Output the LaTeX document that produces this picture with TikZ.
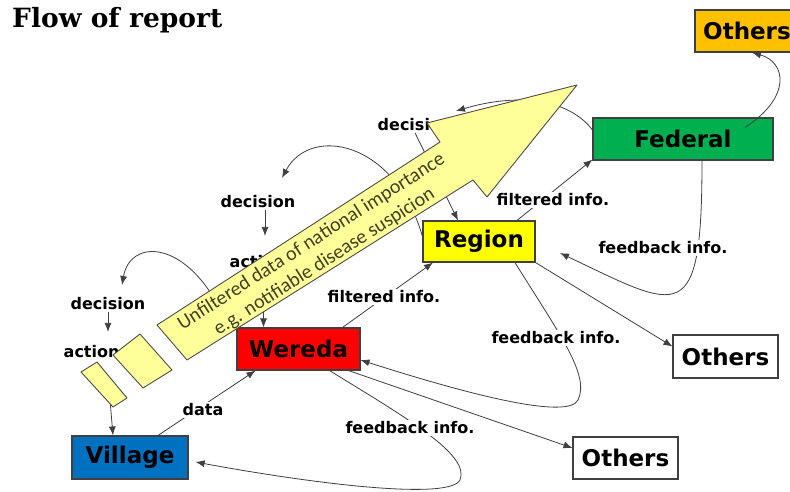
\documentclass[tikz,border=0pt]{standalone}
\usepackage{fontspec}
\usetikzlibrary{arrows.meta,calc}
\newfontfamily\lblfont{DejaVu Sans}
\newfontfamily\ttlfont{DejaVu Serif}
\newfontfamily\arrfont{Carlito}
\definecolor{fedgreen}{HTML}{00B050}
\definecolor{regyellow}{HTML}{FFFF00}
\definecolor{werred}{HTML}{FF0000}
\definecolor{vilblue}{HTML}{0070C0}
\definecolor{othorange}{HTML}{FFC000}
\definecolor{arryellow}{HTML}{FFFF99}
\definecolor{arrtext}{HTML}{404025}
\begin{document}
\begin{tikzpicture}[x=1pt,y=-1pt,
  box/.style={draw=black!75, line width=1.1pt, font=\lblfont\bfseries\fontsize{23}{26}\selectfont, inner sep=0pt, minimum height=42pt},
  lbl/.style={font=\lblfont\bfseries\fontsize{16}{18}\selectfont, inner sep=1.5pt},
  wlbl/.style={lbl, fill=white},
  conn/.style={draw=black!75, line width=0.8pt},
  arr/.style={conn, -{Latex[length=9pt,width=7pt]}},
  yel/.style={fill=arryellow, draw=black!70, line width=0.9pt, line join=round}]
\useasboundingbox (0,0) rectangle (790,492);
\fill[white] (0,0) rectangle (790,492);

% title
\node[anchor=base west, inner sep=0pt, font=\ttlfont\bfseries\fontsize{26.5}{30}\selectfont] (title) at (12,28) {Flow of report};

% boxes
\node[box, fill=othorange, minimum width=104pt] (othT) at (747,31) {Others};
\node[box, fill=fedgreen, minimum width=180pt] (fed) at (683,139) {Federal};
\node[box, fill=regyellow, minimum width=112pt, minimum height=41pt] (reg) at (479,241.5) {Region};
\node[box, fill=werred, minimum width=123pt] (wer) at (298.5,349) {Wereda};
\node[box, fill=vilblue, minimum width=116pt, minimum height=43pt] (vil) at (130,457.5) {Village};
\node[box, fill=white, minimum width=105pt, minimum height=43pt] (othM) at (725.5,356.5) {Others};
\node[box, fill=white, minimum width=105pt] (othB) at (625.5,458) {Others};

% plain labels
\node[lbl, anchor=west] (dec3) at (376,125) {decision};
\node[lbl, anchor=west] (act2) at (228,262) {action};
\node[lbl, anchor=west] (act1) at (62,352) {action};
\node[lbl] (dec2) at (258,202) {decision};
\node[lbl] (dec1) at (108,304) {decision};

% free ends
\coordinate (c1s) at (215,300);
\coordinate (c1e) at (122,285);
\coordinate (c2e) at (282,178);
\coordinate (c3e) at (456,111);
\coordinate (fbRe) at (560,253);
\coordinate (a1s) at (110,400);

% connectors
\draw[arr] ([xshift=28pt]vil.north) -- ([xshift=-43pt]wer.south);
\draw[arr] ([xshift=44pt]wer.north) -- ([xshift=-46pt]reg.south);
\draw[arr] ([xshift=38pt]reg.north) -- ([yshift=1pt]fed.south west);
\draw[arr] ([xshift=62pt,yshift=-10pt]fed.north) .. controls (792,97) and (786,62) .. ([xshift=5pt]othT.south);
\draw[arr] ([yshift=9pt]fed.west) .. controls (570,100) and (520,92) .. (c3e);
\draw[arr] (dec3.south) -- ([xshift=-21pt]reg.north);
\draw[arr] ([yshift=5pt]reg.west) .. controls (395,140) and (310,125) .. (c2e);
\draw[arr] ([xshift=7pt]dec2.south) -- ++(0,26);
\draw[arr] ([xshift=-35pt]wer.north |- act2.south) -- ([xshift=-35pt]wer.north);
\draw[arr] (c1s) .. controls (180,240) and (130,240) .. (c1e);
\draw[arr] (dec1.south) -- ++(0,20);
\draw[arr] (a1s) -- ([xshift=-17pt]vil.north);
\draw[arr] (reg.south east) -- ([yshift=10pt]othM.west);
\draw[arr] ([xshift=50pt]wer.south) -- ([yshift=10pt]othB.west);
\draw[arr] ([xshift=19pt]fed.south) .. controls (702,330) and (680,310) .. (fbRe);
\draw[arr] ([xshift=36pt]reg.south) .. controls (560,335) and (590,375) .. (578,400) .. controls (568,420) and (470,395) .. ([yshift=-11pt]wer.east);
\draw[arr] ([xshift=31pt]wer.south) .. controls (410,420) and (470,455) .. (460,480) .. controls (450,500) and (320,485) .. ([xshift=7pt,yshift=-4.5pt]vil.east);

% labels on connectors
\node[wlbl] (lData) at (203,410) {data};
\node[wlbl] (lF1) at (384,297) {filtered info.};
\node[wlbl] (lF2) at (553,200) {filtered info.};
\node[wlbl] (lFb1) at (663,248) {feedback info.};
\node[wlbl] (lFb2) at (556,338) {feedback info.};
\node[wlbl] (lFb3) at (410,428) {feedback info.};

% big arrow
\path[yel] (187,360) -- (473,180) -- (487,197) -- (577,85) -- (427,123) -- (440,142) -- (157,325) -- cycle;
\path[yel] (113,355) -- (140,334) -- (172,370) -- (143,388) -- cycle;
\path[yel] (81,372) -- (97,362) -- (127,398) -- (113,407) -- cycle;
\node[rotate=32.5, font=\arrfont\fontsize{20}{24}\selectfont, text=arrtext, align=center] (atext) at (318,252) {Unfiltered data of national importance\\e.g. notifiable disease suspicion};
\end{tikzpicture}
\end{document}
